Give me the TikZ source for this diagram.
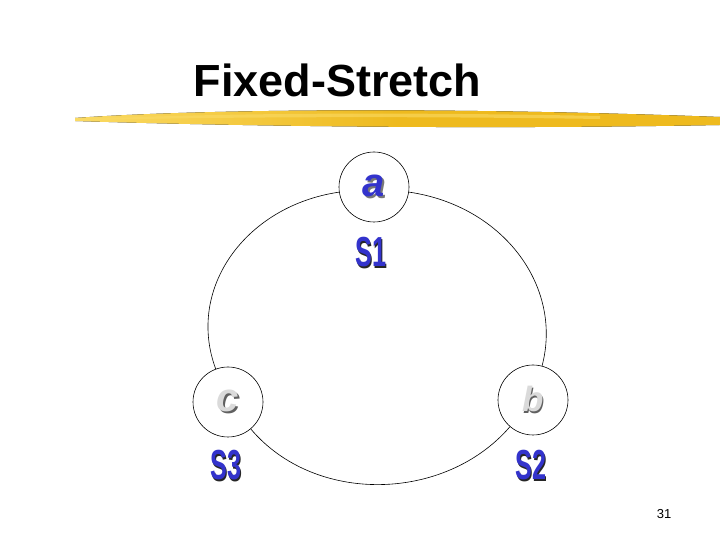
\documentclass[tikz,border=0pt]{standalone}
\usepackage{fontspec}
\setmainfont{Liberation Sans}
\definecolor{labelblue}{RGB}{51,51,204}
\definecolor{shadegray}{RGB}{120,120,120}
\definecolor{lettergray}{RGB}{218,218,218}
\definecolor{brushgold}{RGB}{238,186,30}
\definecolor{brushlight}{RGB}{250,218,100}
\newcommand{\shadowed}[3]{\rlap{\kern1.6pt\raisebox{-1.6pt}{\color{#2}#3}}{\color{#1}#3}}
\tikzset{
  station/.style={circle, draw, line width=0.6pt, minimum size=70pt, inner sep=0pt},
  ring/.style={line width=0.6pt},
  site/.style={font=\fontsize{40}{40}\selectfont\bfseries\itshape},
  tag/.style={font=\fontsize{42}{42}\selectfont\bfseries},
  brush/.style={left color=brushlight, right color=brushgold, middle color=brushgold},
}

\begin{document}
\begin{tikzpicture}[x=1pt, y=1pt]
  \useasboundingbox[fill=white] (0,0) rectangle (720,540);
  \node[anchor=west, font=\fontsize{45}{45}\selectfont\bfseries] (title) at (190,460) {Fixed-Stretch};
  \fill[brush] (75,422) .. controls (200,431) and (450,433) .. (720,423)
    -- (720,415) .. controls (450,410) and (200,415) .. (75,419) -- cycle;
  \fill[brushlight, opacity=0.6] (90,421) .. controls (220,427) and (400,428) .. (600,424)
    -- (600,421) .. controls (400,424) and (220,423) .. (90,420) -- cycle;

  \node[station, site] (a) at (374,353) {\shadowed{labelblue}{shadegray}{a}};
  \node[station, site, font=\fontsize{35}{35}\selectfont\bfseries\itshape] (b) at (533,140) {\shadowed{lettergray}{shadegray!80!black}{b}};
  \node[station, site] (c) at (228,138) {\shadowed{lettergray}{shadegray!80!black}{c}};

  \draw[ring] (a) .. controls (504,334) and (563,253) .. (b);
  \draw[ring] (b) .. controls (445,38) and (315,35) .. (c);
  \draw[ring] (c) .. controls (186,251) and (245,334) .. (a);

  \node[tag] (s1) at (371,287) {\scalebox{0.6}[1]{\shadowed{labelblue}{black!85}{S1}}};
  \node[tag] (s2) at (531,74) {\scalebox{0.6}[1]{\shadowed{labelblue}{black!85}{S2}}};
  \node[tag] (s3) at (226,74) {\scalebox{0.6}[1]{\shadowed{labelblue}{black!85}{S3}}};

  \node[font=\fontsize{13}{13}\selectfont] (page) at (664,26) {31};
\end{tikzpicture}
\end{document}
